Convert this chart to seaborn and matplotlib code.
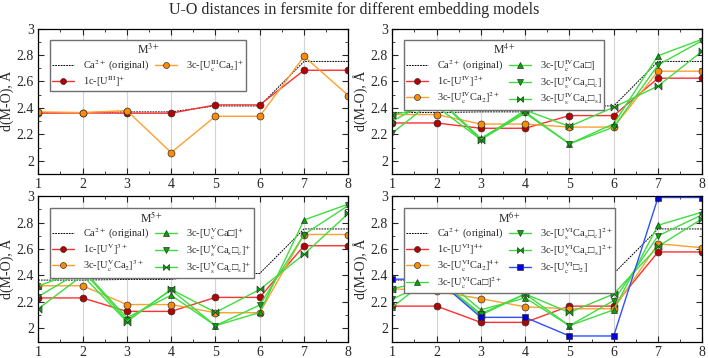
import matplotlib
matplotlib.use("Agg")
import matplotlib.pyplot as plt
import seaborn as sns
from matplotlib.path import Path
from matplotlib.ticker import MultipleLocator, FuncFormatter

# positions 1..8
pos = [1, 2, 3, 4, 5, 6, 7, 8]
ca_orig = [2.365, 2.365, 2.37, 2.37, 2.415, 2.415, 2.752, 2.752]

# M3+
m3_1c = [2.36, 2.362, 2.36, 2.36, 2.423, 2.423, 2.685, 2.685]
m3_3c_ca2 = [2.37, 2.365, 2.38, 2.062, 2.337, 2.337, 2.79, 2.494]

# M4+
m4_1c = [2.286, 2.286, 2.246, 2.246, 2.342, 2.342, 2.625, 2.625]
m4_3c_ca2 = [2.35, 2.35, 2.278, 2.278, 2.255, 2.255, 2.678, 2.678]
m4_3c_cav = [2.30, 2.48, 2.17, 2.37, 2.128, 2.28, 2.795, 2.92]
m4_3c_sc = [2.21, 2.475, 2.16, 2.36, 2.128, 2.255, 2.725, 2.91]
m4_3c_cs = [2.35, 2.41, 2.16, 2.383, 2.26, 2.405, 2.565, 2.83]

# M5+
m5_1c = [2.23, 2.23, 2.128, 2.128, 2.234, 2.234, 2.625, 2.625]
m5_3c_ca2 = [2.322, 2.322, 2.18, 2.18, 2.118, 2.118, 2.71, 2.71]
m5_3c_cav = [2.32, 2.445, 2.08, 2.25, 2.02, 2.12, 2.82, 2.94]
m5_3c_sc = [2.24, 2.44, 2.06, 2.29, 2.02, 2.176, 2.71, 2.93]
m5_3c_cs = [2.148, 2.40, 2.05, 2.295, 2.12, 2.294, 2.56, 2.87]

# M6+
m6_1c = [2.168, 2.168, 2.045, 2.045, 2.168, 2.168, 2.578, 2.578]
m6_3c_ca2 = [2.30, 2.28, 2.224, 2.163, 2.148, 2.148, 2.64, 2.61]
m6_3c_cav = [2.16, 2.42, 2.14, 2.23, 2.02, 2.14, 2.78, 2.88]
m6_3c_sc = [2.22, 2.38, 2.11, 2.26, 2.02, 2.21, 2.70, 2.86]
m6_3c_cs = [2.30, 2.37, 2.10, 2.26, 2.12, 2.26, 2.62, 2.83]
m6_3c_v2 = [2.372, 2.372, 2.083, 2.083, 1.942, 1.942, 2.99, 2.99]

bowtie = Path([(-1, -1), (-1, 1), (1, -1), (1, 1), (-1, -1)],
              [Path.MOVETO, Path.LINETO, Path.LINETO, Path.LINETO, Path.CLOSEPOLY])

RED = dict(color="#ff3030", marker="o", mfc="#b80000")
ORA = dict(color="#ffa030", marker="o", mfc="#ff8c00")
GUP = dict(color="#40dd40", marker="^", mfc="#00aa00")
GDN = dict(color="#40dd40", marker="v", mfc="#00aa00")
GBT = dict(color="#40dd40", marker=bowtie, mfc="#00aa00")
BLU = dict(color="#3050ff", marker="s", mfc="#0000e0")

panels = [
    ("M$^{3+}$", [
        (m3_1c, "1c-[U$^{\\mathrm{III}}$]$^{+}$", RED),
        (m3_3c_ca2, "3c-[U$_{\\mathrm{c}}^{\\mathrm{III}}$Ca$_{2}$]$^{+}$", ORA),
    ], (0.054, 0.514)),
    ("M$^{4+}$", [
        (m4_1c, "1c-[U$^{\\mathrm{IV}}$]$^{2+}$", RED),
        (m4_3c_ca2, "3c-[U$_{\\mathrm{c}}^{\\mathrm{IV}}$Ca$_{2}$]$^{2+}$", ORA),
        (m4_3c_cav, "3c-[U$_{\\mathrm{c}}^{\\mathrm{IV}}$Ca□]", GUP),
        (m4_3c_sc, "3c-[U$_{\\mathrm{s}}^{\\mathrm{IV}}$Ca$_{\\mathrm{s}}$□$_{\\mathrm{c}}$]", GDN),
        (m4_3c_cs, "3c-[U$_{\\mathrm{s}}^{\\mathrm{IV}}$Ca$_{\\mathrm{c}}$□$_{\\mathrm{s}}$]", GBT),
    ], (0.554, 0.514)),
    ("M$^{5+}$", [
        (m5_1c, "1c-[U$^{\\mathrm{V}}$]$^{3+}$", RED),
        (m5_3c_ca2, "3c-[U$_{\\mathrm{c}}^{\\mathrm{V}}$Ca$_{2}$]$^{3+}$", ORA),
        (m5_3c_cav, "3c-[U$_{\\mathrm{c}}^{\\mathrm{V}}$Ca□]$^{+}$", GUP),
        (m5_3c_sc, "3c-[U$_{\\mathrm{s}}^{\\mathrm{V}}$Ca$_{\\mathrm{s}}$□$_{\\mathrm{c}}$]$^{+}$", GDN),
        (m5_3c_cs, "3c-[U$_{\\mathrm{s}}^{\\mathrm{V}}$Ca$_{\\mathrm{c}}$□$_{\\mathrm{s}}$]$^{+}$", GBT),
    ], (0.054, 0.046)),
    ("M$^{6+}$", [
        (m6_1c, "1c-[U$^{\\mathrm{VI}}$]$^{4+}$", RED),
        (m6_3c_ca2, "3c-[U$_{\\mathrm{c}}^{\\mathrm{VI}}$Ca$_{2}$]$^{4+}$", ORA),
        (m6_3c_cav, "3c-[U$_{\\mathrm{c}}^{\\mathrm{VI}}$Ca□]$^{2+}$", GUP),
        (m6_3c_sc, "3c-[U$_{\\mathrm{s}}^{\\mathrm{VI}}$Ca$_{\\mathrm{s}}$□$_{\\mathrm{c}}$]$^{2+}$", GDN),
        (m6_3c_cs, "3c-[U$_{\\mathrm{s}}^{\\mathrm{VI}}$Ca$_{\\mathrm{c}}$□$_{\\mathrm{s}}$]$^{2+}$", GBT),
        (m6_3c_v2, "3c-[U$_{\\mathrm{c}}^{\\mathrm{VI}}$□$_{2}$]", BLU),
    ], (0.554, 0.046)),
]

sns.set_style("ticks")
plt.rcParams["font.family"] = ["Liberation Serif", "DejaVu Sans"]
plt.rcParams["mathtext.fontset"] = "stix"
plt.rcParams["xtick.direction"] = "in"
plt.rcParams["ytick.direction"] = "in"

fig = plt.figure(figsize=(7.08, 3.58), dpi=100)
fig.suptitle("U-O distances in fersmite for different embedding models",
             y=0.995, fontsize=11.5)

for title, series, (x0, y0) in panels:
    ax = fig.add_axes([x0, y0, 0.438, 0.406])
    for xv in pos:
        ax.axvline(xv, color="#d4d4d4", lw=0.8, zorder=0)
    sns.lineplot(x=pos, y=ca_orig, ax=ax, color="black", lw=0.7,
                 linestyle=(0, (1.8, 1.0)), label="Ca$^{2+}$ (original)")
    for vals, lab, st in series:
        sns.lineplot(x=pos, y=vals, ax=ax, color=st["color"], lw=1.0,
                     marker=st["marker"], markerfacecolor=st["mfc"],
                     markeredgecolor="#303030", markeredgewidth=0.5,
                     markersize=5, label=lab)
    ax.set_xlim(1, 8)
    ax.set_ylim(1.9, 3.0)
    ax.xaxis.set_major_locator(MultipleLocator(1))
    ax.xaxis.set_minor_locator(MultipleLocator(0.5))
    ax.yaxis.set_major_locator(MultipleLocator(0.2))
    ax.yaxis.set_minor_locator(MultipleLocator(0.1))
    ax.yaxis.set_major_formatter(FuncFormatter(lambda v, p: "%g" % round(v, 2)))
    ax.tick_params(which="both", top=True, right=True, labelsize=10, pad=3)
    ax.tick_params(which="major", length=4, width=0.8)
    ax.tick_params(which="minor", length=2, width=0.6)
    for s in ax.spines.values():
        s.set_linewidth(0.9)
        s.set_color("black")
    ax.set_xlabel("")
    ax.set_ylabel("d(M-O), Å", fontsize=10, labelpad=2)
    leg = ax.legend(loc="upper left", bbox_to_anchor=(0.038, 0.92), ncol=2,
                    title=title, fontsize=7.5, title_fontsize=8.5, frameon=True,
                    fancybox=False, handlelength=2.1, handletextpad=0.9,
                    columnspacing=0.5, labelspacing=0.1, borderpad=0.2,
                    borderaxespad=0, markerscale=0.85)
    leg.get_frame().set_edgecolor("#707070")
    leg.get_frame().set_linewidth(1.0)
    leg.get_frame().set_alpha(1.0)

fig.savefig("out.png", dpi=100)
